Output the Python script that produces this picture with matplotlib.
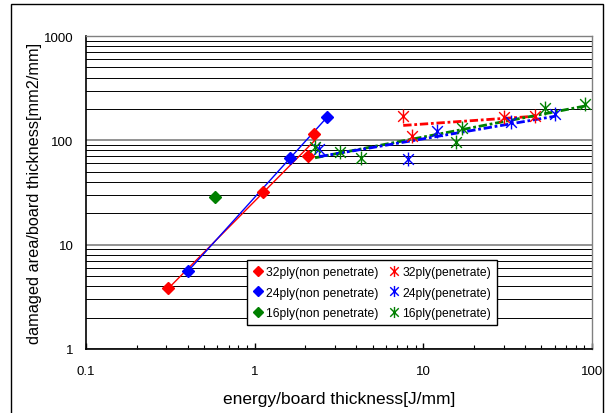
import numpy as np
import matplotlib.pyplot as plt
from matplotlib.path import Path
from matplotlib.lines import Line2D
from matplotlib.ticker import LogLocator, NullFormatter, FixedLocator, FixedFormatter

plt.rcParams['font.family'] = ['Liberation Sans', 'DejaVu Sans']

# non penetrate (diamonds)
x32n = [0.308, 1.125, 2.06, 2.25]
y32n = [3.82, 32.2, 71.3, 115]
x24n = [0.404, 1.63, 2.67]
y24n = [5.63, 67.3, 166]
x16n = [0.582]
y16n = [28.5]

# penetrate (stars)
x32p = [7.6, 8.53, 30.2, 46.1]
y32p = [172.6, 111, 166, 170]
x24p = [2.42, 8.07, 12.0, 33.0, 60.3]
y24p = [82.7, 66.3, 124, 149, 179]
x16p = [2.28, 3.2, 4.27, 15.7, 16.9, 52.6, 90.8]
y16p = [85.9, 78, 67.3, 95.9, 130, 204, 223]

labels = ['32ply(non penetrate)', '24ply(non penetrate)', '16ply(non penetrate)',
          '32ply(penetrate)', '24ply(penetrate)', '16ply(penetrate)']

red, blue, green = '#FF0000', '#0000FF', '#008000'

# Excel 스타일 별표 마커 (X + 세로선)
star = Path([(-1, -1), (1, 1), (-1, 1), (1, -1), (0, -1.3), (0, 1.3)],
            [Path.MOVETO, Path.LINETO, Path.MOVETO, Path.LINETO, Path.MOVETO, Path.LINETO])


def power_fit(x, y):
    # 로그-로그 직선 추세선 (Excel 거듭제곱 추세선)
    lx, ly = np.log10(x), np.log10(y)
    a, b = np.polyfit(lx, ly, 1)
    xs = np.array([min(x), max(x)])
    return xs, 10 ** (a * np.log10(xs) + b)


fig = plt.figure(figsize=(6.11, 4.14), dpi=100)
ax = fig.add_axes([86 / 611, 1 - 350 / 414, (592 - 86) / 611, (350 - 37) / 414])

ax.set_xscale('log')
ax.set_yscale('log')
ax.set_xlim(0.1, 100)
ax.set_ylim(1, 1000)

# 추세선
dash = (0, (3, 1, 1, 1))
for x, y, c in [(x32n, y32n, red), (x24n, y24n, blue)]:
    xs, ys = power_fit(x, y)
    ax.plot(xs, ys, color=c, lw=1, zorder=3)
for x, y, c in [(x32p, y32p, red), (x16p, y16p, green), (x24p, y24p, blue)]:
    xs, ys = power_fit(x, y)
    ax.plot(xs, ys, color=c, lw=2, linestyle=dash, zorder=3)

# 데이터 점
for x, y, c in [(x32n, y32n, red), (x24n, y24n, blue), (x16n, y16n, green)]:
    ax.plot(x, y, linestyle='none', marker='D', ms=6, color=c, zorder=4)
for x, y, c in [(x32p, y32p, red), (x24p, y24p, blue), (x16p, y16p, green)]:
    ax.plot(x, y, linestyle='none', marker=star, ms=10, mew=1,
            markerfacecolor='none', markeredgecolor=c, zorder=4)

# 눈금 / 격자
ax.xaxis.set_major_locator(FixedLocator([0.1, 1, 10, 100]))
ax.xaxis.set_major_formatter(FixedFormatter(['0.1', '1', '10', '100']))
ax.xaxis.set_minor_locator(LogLocator(base=10, subs=np.arange(2, 10)))
ax.xaxis.set_minor_formatter(NullFormatter())
ax.yaxis.set_major_locator(FixedLocator([1, 10, 100, 1000]))
ax.yaxis.set_major_formatter(FixedFormatter(['1', '10', '100', '1000']))
ax.yaxis.set_minor_locator(LogLocator(base=10, subs=np.arange(2, 10)))
ax.yaxis.set_minor_formatter(NullFormatter())

ax.tick_params(axis='x', which='major', direction='in', length=4, width=1, pad=11.5, labelsize=9.5)
ax.tick_params(axis='x', which='minor', direction='in', length=3, width=0.8)
ax.tick_params(axis='y', which='both', length=0, pad=9, labelsize=9.5)

ax.yaxis.grid(True, which='minor', color='black', lw=0.7)
ax.yaxis.grid(True, which='major', color='#808080', lw=1.2)
ax.set_axisbelow(True)

for s in ['left', 'bottom']:
    ax.spines[s].set_color('black')
    ax.spines[s].set_linewidth(1.2)
for s in ['top', 'right']:
    ax.spines[s].set_color('#808080')
    ax.spines[s].set_linewidth(1)

ax.set_xlabel('energy/board thickness[J/mm]', fontsize=12.5, labelpad=10)
ax.set_ylabel('damaged area/board thickness[mm2/mm]', fontsize=11.7, labelpad=1.5)

# 범례
handles = []
for c in [red, blue, green]:
    handles.append(Line2D([], [], linestyle='none', marker='D', ms=5, color=c))
for c in [red, blue, green]:
    handles.append(Line2D([], [], linestyle='none', marker=star, ms=8, mew=1,
                          markerfacecolor='none', markeredgecolor=c))
leg = ax.legend(handles, labels, ncol=2, loc='upper left', bbox_to_anchor=(0.318, 0.284),
                fontsize=8.7, frameon=True, fancybox=False, edgecolor='black',
                handlelength=0.8, handletextpad=0.3, columnspacing=0.85,
                labelspacing=0.7, borderpad=0.5, borderaxespad=0)
leg.get_frame().set_linewidth(1)
leg.get_frame().set_alpha(1)

# 그림 테두리
fig.add_artist(plt.Rectangle((11 / 611, -0.02), (603 - 11) / 611, (414 - 5) / 414 + 0.02,
                             transform=fig.transFigure, fill=False, ec='black', lw=1))

fig.savefig('out.png', dpi=100)
